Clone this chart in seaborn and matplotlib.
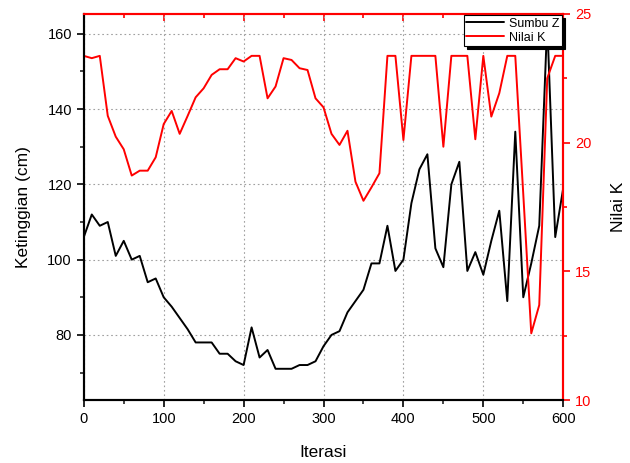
import numpy as np
import pandas as pd
import matplotlib
matplotlib.use("Agg")
import matplotlib.pyplot as plt
import seaborn as sns
from matplotlib.ticker import MultipleLocator

# data, one value every 10 iterations
iterasi = np.arange(0, 610, 10)
sumbu_z = [106, 112, 109, 110, 101, 105, 100, 101, 94, 95,
           90, 87.5, 84.5, 81.5, 78, 78, 78, 75, 75, 73,
           72, 82, 74, 76, 71, 71, 71, 72, 72, 73,
           77, 80, 81, 86, 89, 92, 99, 99, 109, 97,
           100, 115, 124, 128, 103, 98, 120, 126, 97, 102,
           96, 105, 113, 89, 134, 90, 99, 109, 163, 106,
           119]
nilai_k = [23.37, 23.28, 23.37, 21.04, 20.23, 19.74, 18.72, 18.91, 18.91, 19.43,
           20.72, 21.23, 20.34, 21.04, 21.76, 22.11, 22.63, 22.85, 22.85, 23.28,
           23.15, 23.37, 23.37, 21.72, 22.18, 23.28, 23.21, 22.89, 22.82, 21.72,
           21.37, 20.34, 19.91, 20.46, 18.48, 17.74, 18.26, 18.81, 23.37, 23.37,
           20.1, 23.37, 23.37, 23.37, 23.37, 19.84, 23.37, 23.37, 23.37, 20.13,
           23.37, 21.01, 21.92, 23.37, 23.37, 18.0, 12.59, 13.69, 22.5, 23.37,
           23.37]

df = pd.DataFrame({"iterasi": iterasi, "z": sumbu_z, "k": nilai_k})

sns.set_theme(style="white")
plt.rcParams["font.family"] = ["Liberation Sans", "DejaVu Sans"]
plt.rcParams["text.color"] = "black"
plt.rcParams["axes.labelcolor"] = "black"

fig, ax = plt.subplots(figsize=(6.3, 4.63), dpi=100)
fig.subplots_adjust(left=0.133, right=0.894, bottom=0.136, top=0.970)
ax2 = ax.twinx()

sns.lineplot(data=df, x="iterasi", y="z", ax=ax, color="black", linewidth=1.4,
             label="Sumbu Z", legend=False)
sns.lineplot(data=df, x="iterasi", y="k", ax=ax2, color="red", linewidth=1.4,
             label="Nilai K", legend=False)

ax.set_xlim(0, 600)
ax.set_ylim(62.7, 165.3)
ax2.set_ylim(10, 25)

ax.xaxis.set_major_locator(MultipleLocator(100))
ax.xaxis.set_minor_locator(MultipleLocator(50))
ax.yaxis.set_major_locator(MultipleLocator(20))
ax.yaxis.set_minor_locator(MultipleLocator(10))
ax2.yaxis.set_major_locator(MultipleLocator(5))
ax2.yaxis.set_minor_locator(MultipleLocator(2.5))

ax.grid(True, which="major", color="#a0a0a0", linestyle=(0, (1.5, 2.5)), linewidth=0.8)
ax.set_axisbelow(True)

ax.tick_params(axis="both", which="major", direction="out", length=5, width=1.2,
               labelsize=10.5, colors="black", left=True, bottom=True)
ax.tick_params(axis="both", which="minor", direction="out", length=3, width=1.2,
               left=True, bottom=True)
ax2.tick_params(axis="y", which="major", direction="out", length=5, width=1.2,
                labelsize=10.5, colors="red", right=True)
ax2.tick_params(axis="y", which="minor", direction="out", length=3, width=1.2,
                color="red", right=True)

# red ticks along the top border
top = ax.secondary_xaxis("top")
top.xaxis.set_major_locator(MultipleLocator(100))
top.xaxis.set_minor_locator(MultipleLocator(50))
top.tick_params(which="major", direction="in", length=5, width=1.2, color="red",
                labeltop=False)
top.tick_params(which="minor", direction="in", length=3, width=1.2, color="red")
top.spines["top"].set_visible(False)

for a in (ax, ax2):
    a.spines["left"].set_color("black")
    a.spines["bottom"].set_color("black")
    a.spines["right"].set_color("red")
    a.spines["top"].set_color("red")
    for s in a.spines.values():
        s.set_linewidth(1.5)

ax.set_xlabel("Iterasi", fontsize=12.5, labelpad=14)
ax.set_ylabel("Ketinggian (cm)", fontsize=12.5, labelpad=12)
ax2.set_ylabel("Nilai K", fontsize=12.5, color="black", labelpad=14)

# legend on the figure so it covers both curves
lines = ax.get_lines()[:1] + ax2.get_lines()[:1]
leg = fig.legend(lines, ["Sumbu Z", "Nilai K"], loc="upper right",
                 bbox_to_anchor=(1.0, 1.0), bbox_transform=ax.transAxes,
                 borderaxespad=0.1, fontsize=9,
                 frameon=True, fancybox=False, framealpha=1, edgecolor="black",
                 facecolor="white",
                 shadow={"color": "black", "alpha": 1}, handlelength=3.0,
                 borderpad=0.2, labelspacing=0.15, handletextpad=0.4)
leg.get_frame().set_linewidth(0.8)
leg.set_zorder(20)

fig.savefig("out.png", dpi=100)
